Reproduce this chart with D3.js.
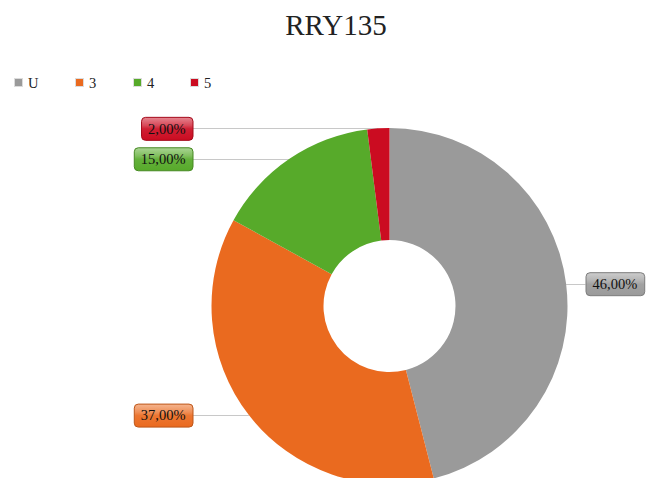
<!DOCTYPE html>
<html>
<head>
<meta charset="utf-8">
<script src="https://cdn.jsdelivr.net/npm/d3@7"></script>
<style>
  body { margin: 0; background: #fff; }
  svg { display: block; font-family: 'Liberation Serif', 'Times New Roman', serif; }
</style>
</head>
<body>
<svg id="chart" width="654" height="478"></svg>
<script>
var title = 'RRY135'
var categories = ['U', '3', '4', '5']
var values = [46, 37, 15, 2]
var colors = ['#9a9a9a', '#ea6a1f', '#57aa2a', '#cb0c21']

var w = 654
var h = 478
var cx = 389.5
var cy = 306
var r_outer = 178
var r_inner = 66

var svg = d3.select('#chart')

// title
svg.append('text')
  .attr('x', 336)
  .attr('y', 35)
  .attr('text-anchor', 'middle')
  .attr('fill', '#222')
  .style('font-size', '29px')
  .text(title)

// legend
var legend_x = [14, 75, 133, 190]
var legend = svg.append('g')
categories.forEach(function (c, idx) {
  var g = legend.append('g').attr('transform', 'translate(' + legend_x[idx] + ',78)')
  g.append('rect')
    .attr('x', 0.5).attr('y', 0.5)
    .attr('width', 8).attr('height', 8)
    .attr('fill', colors[idx])
    .attr('stroke', '#dcdcdc')
  g.append('text')
    .attr('x', 14)
    .attr('y', 9.5)
    .attr('fill', '#222')
    .style('font-size', '14.5px')
    .text(c)
})

// gradients for label boxes
var defs = svg.append('defs')
colors.forEach(function (c, idx) {
  var grad = defs.append('linearGradient')
    .attr('id', 'grad' + idx)
    .attr('x1', 0).attr('y1', 0).attr('x2', 0).attr('y2', 1)
  grad.append('stop').attr('offset', '0%').attr('stop-color', d3.interpolateRgb(c, '#fff')(0.5))
  grad.append('stop').attr('offset', '35%').attr('stop-color', d3.interpolateRgb(c, '#fff')(0.25))
  grad.append('stop').attr('offset', '50%').attr('stop-color', d3.interpolateRgb(c, '#fff')(0.08))
  grad.append('stop').attr('offset', '100%').attr('stop-color', c)
})

var pie = d3.pie().sort(null).value(function (d) { return d })
var arcs = pie(values)
var arc = d3.arc().innerRadius(r_inner).outerRadius(r_outer)

var fmt = function (v) { return d3.format('.2f')(v).replace('.', ',') + '%' }
var total = d3.sum(values)

// leader lines (under the pie)
var lines = svg.append('g')
var pie_g = svg.append('g').attr('transform', 'translate(' + cx + ',' + cy + ')')
var labels = svg.append('g')

arcs.forEach(function (a, idx) {
  pie_g.append('path')
    .attr('d', arc(a))
    .attr('fill', colors[idx])

  var mid = (a.startAngle + a.endAngle) / 2
  var px = cx + r_outer * Math.sin(mid)
  var py = cy - r_outer * Math.cos(mid)
  var right = Math.sin(mid) > 0
  var txt = fmt(100 * values[idx] / total)

  var label = labels.append('g')
  var t = label.append('text')
    .attr('y', py)
    .attr('dy', '0.36em')
    .attr('fill', '#111')
    .style('font-size', '14.5px')
    .text(txt)
  var tw = t.node().getComputedTextLength()
  var bw = tw + 14
  var bh = 23
  var bx = right ? cx + r_outer + 18 : cx - r_outer - 19 - bw
  t.attr('x', bx + bw / 2).attr('text-anchor', 'middle')

  label.insert('rect', 'text')
    .attr('x', bx + 0.5)
    .attr('y', py - bh / 2 + 0.5)
    .attr('width', bw)
    .attr('height', bh)
    .attr('rx', 4)
    .attr('fill', 'url(#grad' + idx + ')')
    .attr('stroke', d3.color(colors[idx]).darker(0.6))

  lines.append('line')
    .attr('x1', right ? bx : bx + bw)
    .attr('x2', px)
    .attr('y1', Math.round(py) + 0.5)
    .attr('y2', Math.round(py) + 0.5)
    .attr('stroke', '#c8c8c8')
    .attr('stroke-width', 1)
})
</script>
</body>
</html>
